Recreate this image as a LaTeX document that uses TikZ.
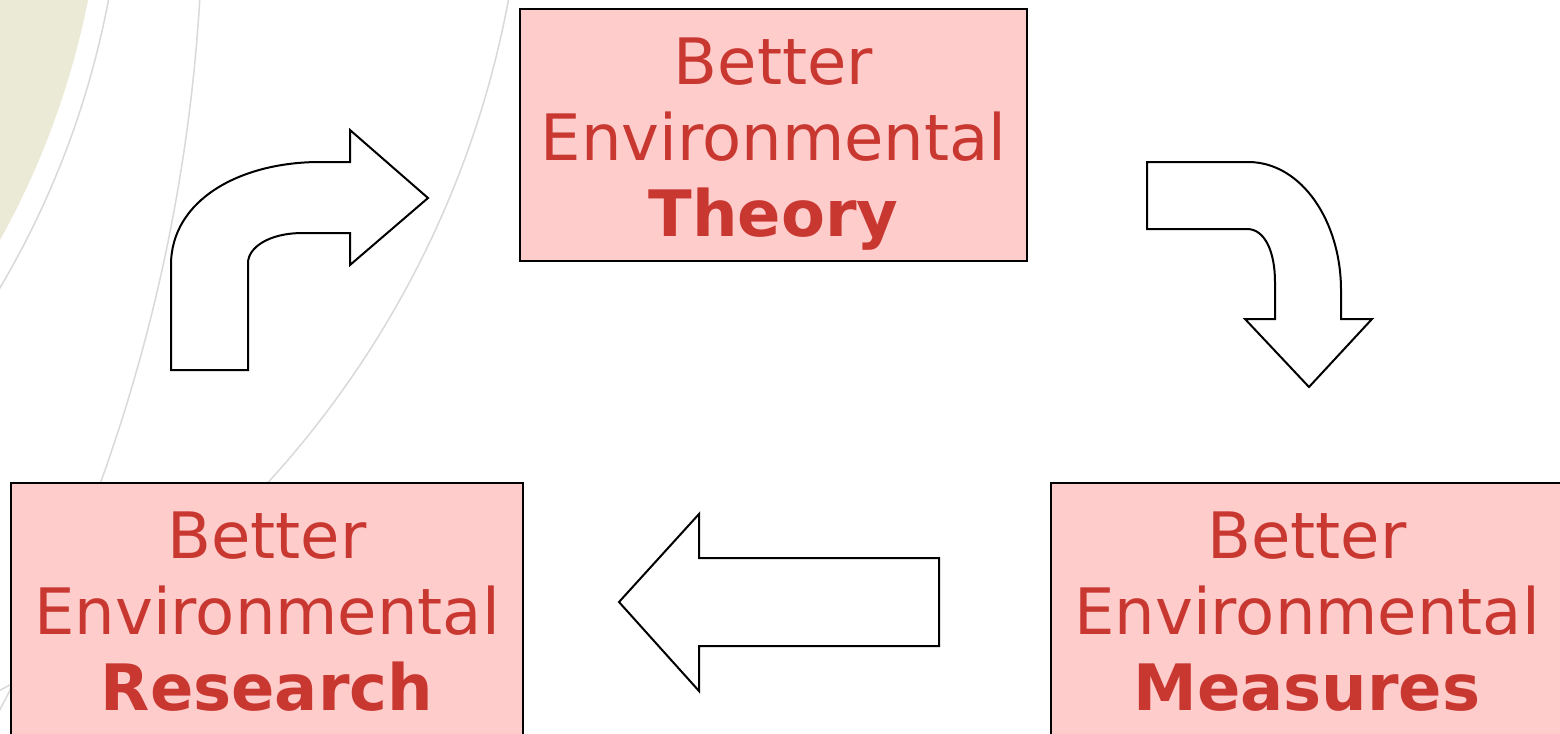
\documentclass[tikz,border=0pt]{standalone}
\usepackage{fontspec}
\setmainfont{DejaVu Sans}
\usepackage{xcolor}
\usepackage{tikz}
\definecolor{stagefill}{RGB}{255,204,204}
\definecolor{stagetext}{RGB}{200,56,48}
\definecolor{beige}{RGB}{234,234,214}
\definecolor{arcgray}{RGB}{217,217,217}
\tikzstyle{stage} = [rectangle,draw=black,line width=0.025cm,fill=stagefill,text=stagetext,inner sep=0pt,minimum width=5.12cm,minimum height=2.52cm,align=center,text height=2.12cm,text depth=0.10cm,font=\fontsize{18.2}{21.6}\selectfont]
\tikzstyle{bigarrow} = [draw=black,line width=0.02cm,fill=white]
\tikzstyle{backarc} = [draw=arcgray,line width=0.015cm]

\begin{document}
\begin{tikzpicture}[x=0.01cm,y=-0.01cm]
	\clip (0,0) rectangle (1560,733);
	\fill[white] (0,0) rectangle (1560,733);
	
	% Background:
	% the beige corner and the thin grey arcs behind everything
	\fill[beige] (-728,-163) circle[radius=832];
	\draw[backarc] (-771,-167) circle[radius=895];
	\draw[backarc] (-1537,-107) circle[radius=1740];
	\draw[backarc] (-460,-181) circle[radius=985];
	
	% Boxes:
	\node[stage,minimum width=5.07cm] (theory) at (773.5,135) {Better\\Environmental\\\textbf{Theory}};
	\node[stage] (research) at (267,609) {Better\\Environmental\\\textbf{Research}};
	\node[stage] (measures) at (1307,609) {Better\\Environmental\\\textbf{Measures}};
	
	% Arrows between the boxes:
	% research -> theory
	\draw[bigarrow] (171,370) -- (171,265) .. controls (171,200) and (240,162) .. (320,162)
		-- (350,162) -- (350,130) -- (428,198) -- (350,265) -- (350,233) -- (303,233)
		.. controls (268,233) and (248,248) .. (248,263) -- (248,370) -- cycle;
	
	% theory -> measures
	\draw[bigarrow] (1147,162) -- (1248,162) .. controls (1302,162) and (1341,222) .. (1341,290)
		-- (1341,319) -- (1372,319) -- (1309,387) -- (1245,319) -- (1275,319) -- (1275,282)
		.. controls (1275,252) and (1265,229) .. (1247,229) -- (1147,229) -- cycle;
	
	% measures -> research
	\draw[bigarrow] (939,558) -- (699,558) -- (699,514) -- (619,602) -- (699,691) -- (699,646) -- (939,646) -- cycle;
	
\end{tikzpicture}
\end{document}
